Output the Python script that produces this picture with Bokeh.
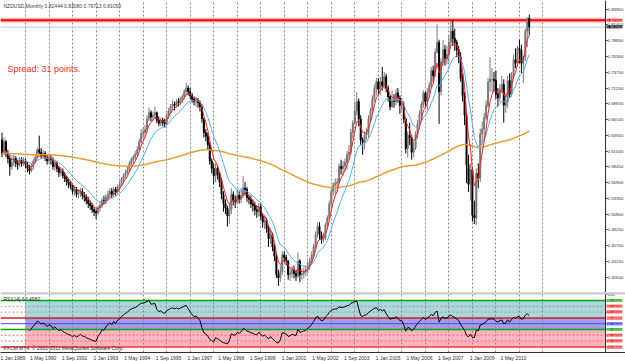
import numpy as np
from bokeh.plotting import figure
from bokeh.models import Range1d, FixedTicker, Span, Label, NumeralTickFormatter
from bokeh.layouts import column
from bokeh.embed import file_html
from bokeh.resources import INLINE

# ---------------- data (monthly NZDUSD, Jan 1989 .. Jun 2011) ----------------
first_open = 0.628
close = [
    0.606, 0.625, 0.605, 0.598, 0.585, 0.592, 0.598, 0.590, 0.588, 0.595, 0.590, 0.593,  # 1989
    0.588, 0.582, 0.578, 0.585, 0.594, 0.600, 0.612, 0.608, 0.602, 0.606, 0.600, 0.594,  # 1990
    0.598, 0.596, 0.585, 0.590, 0.582, 0.575, 0.578, 0.570, 0.565, 0.560, 0.556, 0.553,  # 1991
    0.545, 0.548, 0.540, 0.542, 0.545, 0.538, 0.536, 0.530, 0.525, 0.522, 0.515, 0.512,  # 1992
    0.510, 0.518, 0.522, 0.530, 0.528, 0.535, 0.540, 0.545, 0.540, 0.548, 0.544, 0.552,  # 1993
    0.556, 0.564, 0.570, 0.575, 0.580, 0.590, 0.596, 0.600, 0.605, 0.612, 0.625, 0.638,  # 1994
    0.640, 0.645, 0.662, 0.672, 0.665, 0.668, 0.672, 0.660, 0.655, 0.660, 0.656, 0.654,  # 1995
    0.668, 0.675, 0.682, 0.686, 0.684, 0.690, 0.688, 0.694, 0.698, 0.706, 0.712, 0.706,  # 1996
    0.700, 0.694, 0.690, 0.692, 0.688, 0.682, 0.662, 0.640, 0.634, 0.620, 0.594, 0.582,  # 1997
    0.570, 0.582, 0.572, 0.560, 0.540, 0.525, 0.518, 0.505, 0.515, 0.540, 0.530, 0.528,  # 1998
    0.538, 0.532, 0.538, 0.550, 0.548, 0.535, 0.532, 0.525, 0.522, 0.515, 0.512, 0.520,  # 1999
    0.505, 0.495, 0.498, 0.485, 0.468, 0.475, 0.455, 0.440, 0.410, 0.405, 0.415, 0.442,  # 2000
    0.438, 0.432, 0.410, 0.412, 0.418, 0.412, 0.408, 0.432, 0.410, 0.412, 0.415, 0.418,  # 2001
    0.425, 0.432, 0.442, 0.455, 0.475, 0.488, 0.475, 0.468, 0.470, 0.490, 0.502, 0.525,  # 2002
    0.545, 0.555, 0.558, 0.560, 0.585, 0.582, 0.586, 0.592, 0.604, 0.608, 0.640, 0.655,  # 2003
    0.675, 0.690, 0.662, 0.628, 0.624, 0.636, 0.638, 0.662, 0.676, 0.695, 0.712, 0.722,  # 2004
    0.710, 0.722, 0.716, 0.730, 0.712, 0.698, 0.682, 0.692, 0.690, 0.704, 0.696, 0.684,  # 2005
    0.684, 0.662, 0.614, 0.636, 0.632, 0.608, 0.615, 0.636, 0.654, 0.670, 0.686, 0.704,  # 2006
    0.690, 0.705, 0.716, 0.740, 0.732, 0.770, 0.786, 0.706, 0.754, 0.774, 0.760, 0.766,  # 2007
    0.786, 0.804, 0.792, 0.786, 0.774, 0.762, 0.728, 0.700, 0.668, 0.588, 0.556, 0.580,  # 2008
    0.506, 0.502, 0.574, 0.566, 0.638, 0.646, 0.664, 0.684, 0.722, 0.726, 0.726, 0.724,  # 2009
    0.702, 0.696, 0.710, 0.718, 0.684, 0.690, 0.724, 0.702, 0.734, 0.758, 0.752, 0.776,  # 2010
    0.774, 0.752, 0.762, 0.804, 0.82444, 0.81050,                                        # 2011
]
high = [
    0.640, 0.632, 0.628, 0.612, 0.603, 0.600, 0.604, 0.602, 0.596, 0.600, 0.600, 0.600,
    0.598, 0.592, 0.588, 0.590, 0.598, 0.604, 0.616, 0.635, 0.615, 0.612, 0.610, 0.604,
    0.606, 0.604, 0.600, 0.596, 0.594, 0.586, 0.584, 0.582, 0.576, 0.570, 0.566, 0.562,
    0.556, 0.553, 0.552, 0.548, 0.550, 0.550, 0.544, 0.540, 0.536, 0.530, 0.526, 0.520,
    0.516, 0.522, 0.528, 0.534, 0.538, 0.540, 0.546, 0.550, 0.550, 0.552, 0.552, 0.556,
    0.562, 0.568, 0.574, 0.580, 0.586, 0.594, 0.600, 0.604, 0.610, 0.618, 0.630, 0.645,
    0.648, 0.652, 0.668, 0.680, 0.676, 0.674, 0.682, 0.674, 0.666, 0.664, 0.664, 0.662,
    0.672, 0.680, 0.686, 0.692, 0.690, 0.694, 0.696, 0.698, 0.702, 0.710, 0.720, 0.716,
    0.712, 0.704, 0.698, 0.698, 0.696, 0.692, 0.686, 0.664, 0.646, 0.640, 0.624, 0.598,
    0.590, 0.590, 0.588, 0.576, 0.566, 0.545, 0.532, 0.522, 0.525, 0.550, 0.545, 0.538,
    0.548, 0.545, 0.550, 0.570, 0.560, 0.552, 0.540, 0.538, 0.532, 0.528, 0.522, 0.526,
    0.525, 0.508, 0.506, 0.502, 0.490, 0.482, 0.478, 0.460, 0.445, 0.418, 0.425, 0.448,
    0.448, 0.442, 0.434, 0.420, 0.424, 0.425, 0.418, 0.446, 0.435, 0.420, 0.422, 0.425,
    0.432, 0.438, 0.448, 0.460, 0.480, 0.495, 0.495, 0.480, 0.478, 0.494, 0.506, 0.530,
    0.550, 0.560, 0.566, 0.566, 0.590, 0.596, 0.594, 0.598, 0.610, 0.620, 0.646, 0.660,
    0.690, 0.705, 0.695, 0.668, 0.632, 0.642, 0.648, 0.668, 0.680, 0.700, 0.718, 0.728,
    0.728, 0.730, 0.746, 0.738, 0.735, 0.716, 0.700, 0.708, 0.702, 0.710, 0.712, 0.700,
    0.696, 0.690, 0.664, 0.642, 0.656, 0.636, 0.625, 0.642, 0.660, 0.676, 0.690, 0.708,
    0.706, 0.712, 0.722, 0.746, 0.748, 0.776, 0.815, 0.790, 0.760, 0.790, 0.782, 0.780,
    0.796, 0.820, 0.822, 0.808, 0.790, 0.780, 0.770, 0.735, 0.706, 0.672, 0.604, 0.590,
    0.584, 0.530, 0.582, 0.590, 0.646, 0.658, 0.672, 0.692, 0.728, 0.762, 0.744, 0.738,
    0.740, 0.712, 0.718, 0.732, 0.726, 0.702, 0.732, 0.736, 0.738, 0.766, 0.776, 0.780,
    0.790, 0.782, 0.764, 0.808, 0.826, 0.83080,
]
low = [
    0.600, 0.604, 0.600, 0.590, 0.570, 0.580, 0.586, 0.584, 0.580, 0.584, 0.585, 0.586,
    0.582, 0.576, 0.572, 0.575, 0.580, 0.590, 0.598, 0.604, 0.598, 0.598, 0.594, 0.588,
    0.590, 0.588, 0.580, 0.578, 0.576, 0.568, 0.570, 0.566, 0.560, 0.554, 0.550, 0.548,
    0.540, 0.538, 0.535, 0.534, 0.536, 0.532, 0.528, 0.524, 0.518, 0.515, 0.510, 0.505,
    0.500, 0.506, 0.512, 0.518, 0.524, 0.524, 0.530, 0.536, 0.534, 0.536, 0.538, 0.540,
    0.546, 0.552, 0.558, 0.566, 0.572, 0.576, 0.586, 0.590, 0.596, 0.602, 0.610, 0.622,
    0.630, 0.632, 0.640, 0.658, 0.658, 0.658, 0.662, 0.655, 0.650, 0.650, 0.650, 0.648,
    0.652, 0.662, 0.670, 0.676, 0.676, 0.680, 0.682, 0.684, 0.688, 0.694, 0.700, 0.700,
    0.694, 0.688, 0.684, 0.682, 0.680, 0.674, 0.656, 0.632, 0.626, 0.612, 0.588, 0.574,
    0.556, 0.560, 0.564, 0.552, 0.532, 0.512, 0.508, 0.488, 0.492, 0.508, 0.522, 0.518,
    0.525, 0.525, 0.526, 0.534, 0.538, 0.528, 0.524, 0.518, 0.512, 0.506, 0.502, 0.504,
    0.498, 0.486, 0.484, 0.478, 0.455, 0.460, 0.448, 0.432, 0.405, 0.392, 0.398, 0.410,
    0.430, 0.425, 0.402, 0.400, 0.405, 0.404, 0.400, 0.405, 0.398, 0.402, 0.404, 0.408,
    0.412, 0.418, 0.428, 0.438, 0.452, 0.470, 0.466, 0.460, 0.462, 0.466, 0.484, 0.498,
    0.520, 0.538, 0.540, 0.545, 0.556, 0.572, 0.570, 0.576, 0.580, 0.596, 0.604, 0.630,
    0.655, 0.668, 0.650, 0.620, 0.604, 0.612, 0.628, 0.632, 0.656, 0.668, 0.690, 0.700,
    0.702, 0.700, 0.708, 0.710, 0.705, 0.690, 0.676, 0.680, 0.680, 0.684, 0.688, 0.670,
    0.676, 0.655, 0.606, 0.600, 0.620, 0.596, 0.600, 0.612, 0.630, 0.646, 0.660, 0.680,
    0.680, 0.676, 0.696, 0.712, 0.722, 0.730, 0.768, 0.654, 0.700, 0.748, 0.748, 0.750,
    0.752, 0.780, 0.780, 0.772, 0.762, 0.752, 0.722, 0.690, 0.652, 0.558, 0.544, 0.530,
    0.496, 0.492, 0.490, 0.550, 0.560, 0.620, 0.628, 0.660, 0.680, 0.706, 0.705, 0.706,
    0.694, 0.682, 0.690, 0.704, 0.656, 0.672, 0.680, 0.696, 0.698, 0.726, 0.744, 0.748,
    0.752, 0.736, 0.720, 0.756, 0.778, 0.79713,
]

price_ticks = [0.40600, 0.43150, 0.45700, 0.48250, 0.50800, 0.53350, 0.55900, 0.58450,
               0.61000, 0.63550, 0.66100, 0.68650, 0.71200, 0.73750, 0.76300, 0.78850,
               0.81400, 0.83950]
date_labels = ["1 Jan 1989", "1 May 1990", "1 Sep 1991", "1 Jan 1993", "1 May 1994",
               "1 Sep 1995", "1 Jan 1997", "1 May 1998", "1 Sep 1999", "1 Jan 2001",
               "1 May 2002", "1 Sep 2003", "1 Jan 2005", "1 May 2006", "1 Sep 2007",
               "1 Jan 2009", "1 May 2010"]
date_label_bars = [0, 16, 32, 48, 64, 80, 96, 112, 128, 144, 160, 176, 192, 208, 224, 240, 256]
year_start_bars = list(range(12, 277, 12))

hline_price = 0.82150
hline_text = "0.82150"
last_price = 0.81050
last_text = "0.81050"
title_text = "NZDUSD,Monthly  0.82444 0.83080 0.79713 0.81050"
spread_text = "Spread: 31 points."
rsi_title = "RSI(14) 63.4982"
copyright_text = "FXCM MT4, \u00a9 2001-2011 MetaQuotes Software Corp."

rsi_levels = [90, 80, 70, 60, 50, 40, 30, 20, 10]
rsi_level_line_colors = ["#00a800", "#d08a8a", "#d08a8a", "#d02020", "#4a4aff",
                         "#00a800", "#ff6a6a", "#ff6a6a", "#ff3030"]
rsi_level_dash = ["solid", "2 2", "2 2", "solid", "solid", "solid", "2 2", "2 2", "solid"]
rsi_level_widths = [1.5, 1, 1, 1.5, 1, 1.5, 1, 1, 1.5]
rsi_label_bg = ["#009a00", "#ff1010", "#ff1010", "#ff1010", "#1010ff",
                "#009a00", "#ff1010", "#ff1010", "#ff1010"]
band_bottoms = [60, 40, 10]
band_tops = [90, 60, 40]
band_colors = ["#a6d8dd", "#a49ce4", "#ffb4c0"]
band_start_bar = 12

# ---------------- derived series ----------------
n = len(close)
idx = np.arange(n)
c = np.array(close)
h = np.array(high)
l = np.array(low)
o = np.array([first_open] + close[:-1])


def ema(vals, period):
    a = 2.0 / (period + 1)
    out = [vals[0]]
    for v in vals[1:]:
        out.append(out[-1] + a * (v - out[-1]))
    return np.array(out)


def rsi_wilder(vals, period=14):
    out = np.full(len(vals), np.nan)
    d = np.diff(vals)
    g = np.maximum(d, 0)
    ls = np.maximum(-d, 0)
    ag = g[:period].mean()
    al = ls[:period].mean()
    out[period] = 100 - 100 / (1 + ag / al) if al > 0 else 100
    for i in range(period, len(d)):
        ag = (ag * (period - 1) + g[i]) / period
        al = (al * (period - 1) + ls[i]) / period
        out[i + 1] = 100 - 100 / (1 + ag / al) if al > 0 else 100
    return out


ma_fast = ema(c, 5)
ma_mid = ema(c, 13)
ma_slow = ema(c, 200)
rsi = rsi_wilder(c, 14)

# ---------------- geometry ----------------
W = 625
AXIS_PX = 605          # pixel column of the price axis
BAR = 1.96             # pixels per monthly bar
X0 = -1.5 / BAR
X1 = X0 + W / BAR
AX = X0 + AXIS_PX / BAR
xr = Range1d(X0, X1)
FONT = "Liberation Sans"
SCALE_FONT = "4.4px"
Y0, Y1 = 0.3813, 0.8535


def style_grid(fig):
    fig.ygrid.visible = False
    fig.xgrid.ticker = FixedTicker(ticks=year_start_bars)
    fig.xgrid.grid_line_color = "#8a8a8a"
    fig.xgrid.grid_line_dash = "2 2"


def style_axis(ax, size="5px"):
    ax.major_label_text_font_size = size
    ax.major_label_text_font = FONT
    ax.major_label_text_color = "#303030"
    ax.minor_tick_out = 0
    ax.minor_tick_in = 0
    ax.major_tick_in = 0
    ax.axis_line_color = "#303030"
    ax.major_tick_line_color = "#303030"


p = figure(frame_width=W, frame_height=292, x_range=xr, y_range=Range1d(Y0, Y1),
           output_backend="svg", toolbar_location=None, x_axis_location=None,
           y_axis_location="right", min_border_left=0, min_border_right=0,
           min_border_top=0, min_border_bottom=0, outline_line_color=None,
           background_fill_color="white", border_fill_color="white")
style_grid(p)
ya = p.yaxis[0]
ya.fixed_location = AX
ya.ticker = FixedTicker(ticks=price_ticks)
ya.formatter = NumeralTickFormatter(format="0.00000")
style_axis(ya, SCALE_FONT)
ya.major_label_standoff = 0
ya.major_tick_out = 2

# horizontal lines (below the candles)
p.add_layout(Span(location=hline_price, dimension="width", line_color="#ff9c9c",
                  line_width=5, line_alpha=0.7, level="underlay"))
p.add_layout(Span(location=hline_price, dimension="width", line_color="#ff0000",
                  line_width=2, level="underlay"))
p.add_layout(Span(location=last_price, dimension="width", line_color="#c8c8c8",
                  line_width=1, level="underlay"))

# candles
up = c >= o
dn = ~up
body_top = np.maximum(o, c)
body_bot = np.minimum(o, c)
for mask, col in ((up, "#7a7a7a"), (dn, "#000000")):
    p.segment(x0=idx[mask], y0=l[mask], x1=idx[mask], y1=h[mask], line_color=col, line_width=1)
    p.vbar(x=idx[mask], width=0.5, top=body_top[mask], bottom=body_bot[mask],
           fill_color=col, line_color=col, line_width=1)

p.line(idx, ma_slow, line_color="#e0a030", line_width=1.5)
p.line(idx, ma_mid, line_color="#5aaaf0", line_width=1)
p.line(idx, ma_fast, line_color="#ff2020", line_width=1)

# price-scale strip
p.quad(left=AX, right=X1 + 5, bottom=Y0 - 1, top=Y1 + 1, fill_color="white", line_color=None)

p.add_layout(Label(x=3, y=284, x_units="screen", y_units="screen", text=title_text,
                   text_font=FONT, text_font_size="5px", text_color="#404040"))
p.add_layout(Label(x=7, y=219, x_units="screen", y_units="screen", text=spread_text,
                   text_font=FONT, text_font_size="9px", text_color="#ff2a2a"))
p.add_layout(Label(x=AXIS_PX + 1, y=hline_price, x_units="screen", y_units="data", text=hline_text,
                   text_font=FONT, text_font_size=SCALE_FONT, text_color="white", text_baseline="middle",
                   background_fill_color="#ff0000"))
p.add_layout(Label(x=AXIS_PX + 1, y=last_price, x_units="screen", y_units="data", text=last_text,
                   text_font=FONT, text_font_size=SCALE_FONT, text_color="white", text_baseline="middle",
                   background_fill_color="#000000"))

# ---------------- RSI panel ----------------
r = figure(frame_width=W, frame_height=60, x_range=xr, y_range=Range1d(0.3, 103.8),
           output_backend="svg", toolbar_location=None, y_axis_location="right",
           min_border_left=0, min_border_right=0, min_border_top=0, min_border_bottom=9,
           outline_line_color=None, background_fill_color="white", border_fill_color="white")
style_grid(r)

xa = r.xaxis[0]
xa.ticker = FixedTicker(ticks=[b + 5 for b in date_label_bars])
xa.major_label_overrides = {b + 5: s for b, s in zip(date_label_bars, date_labels)}
style_axis(xa)
xa.major_label_standoff = 2
xa.major_tick_out = 0

ra = r.yaxis[0]
ra.fixed_location = AX
ra.ticker = FixedTicker(ticks=[0, 100])
style_axis(ra, SCALE_FONT)
ra.major_label_standoff = 0
ra.major_tick_out = 2

r.quad(left=band_start_bar, right=AX, bottom=band_bottoms, top=band_tops,
       fill_color=band_colors, line_color=None, level="image")

for lv, lc, ld, lw in zip(rsi_levels, rsi_level_line_colors, rsi_level_dash, rsi_level_widths):
    r.add_layout(Span(location=lv, dimension="width", line_color=lc, line_dash=ld,
                      line_width=lw, level="underlay"))

r.line(idx[14:], rsi[14:], line_color="#000000", line_width=1)

r.quad(left=AX, right=X1 + 5, bottom=-5, top=110, fill_color="white", line_color=None)

r.add_layout(Span(location=103.3, dimension="width", line_color="#8a8a8a", line_width=1))
r.add_layout(Span(location=101.6, dimension="width", line_color="#c8c8c8", line_width=1.5))

for lv, bg in zip(rsi_levels, rsi_label_bg):
    r.add_layout(Label(x=AXIS_PX + 1, y=lv, x_units="screen", y_units="data", text=f"{lv:.4f}",
                       text_font=FONT, text_font_size=SCALE_FONT, text_color="white",
                       text_baseline="middle", background_fill_color=bg))

r.add_layout(Label(x=3, y=51, x_units="screen", y_units="screen", text=rsi_title,
                   text_font=FONT, text_font_size="5px", text_color="#303030"))
r.add_layout(Label(x=3, y=2, x_units="screen", y_units="screen", text=copyright_text,
                   text_font=FONT, text_font_size="5px", text_color="#303030"))

layout = column(p, r, spacing=0)
open("out.html", "w").write(file_html(layout, INLINE))
